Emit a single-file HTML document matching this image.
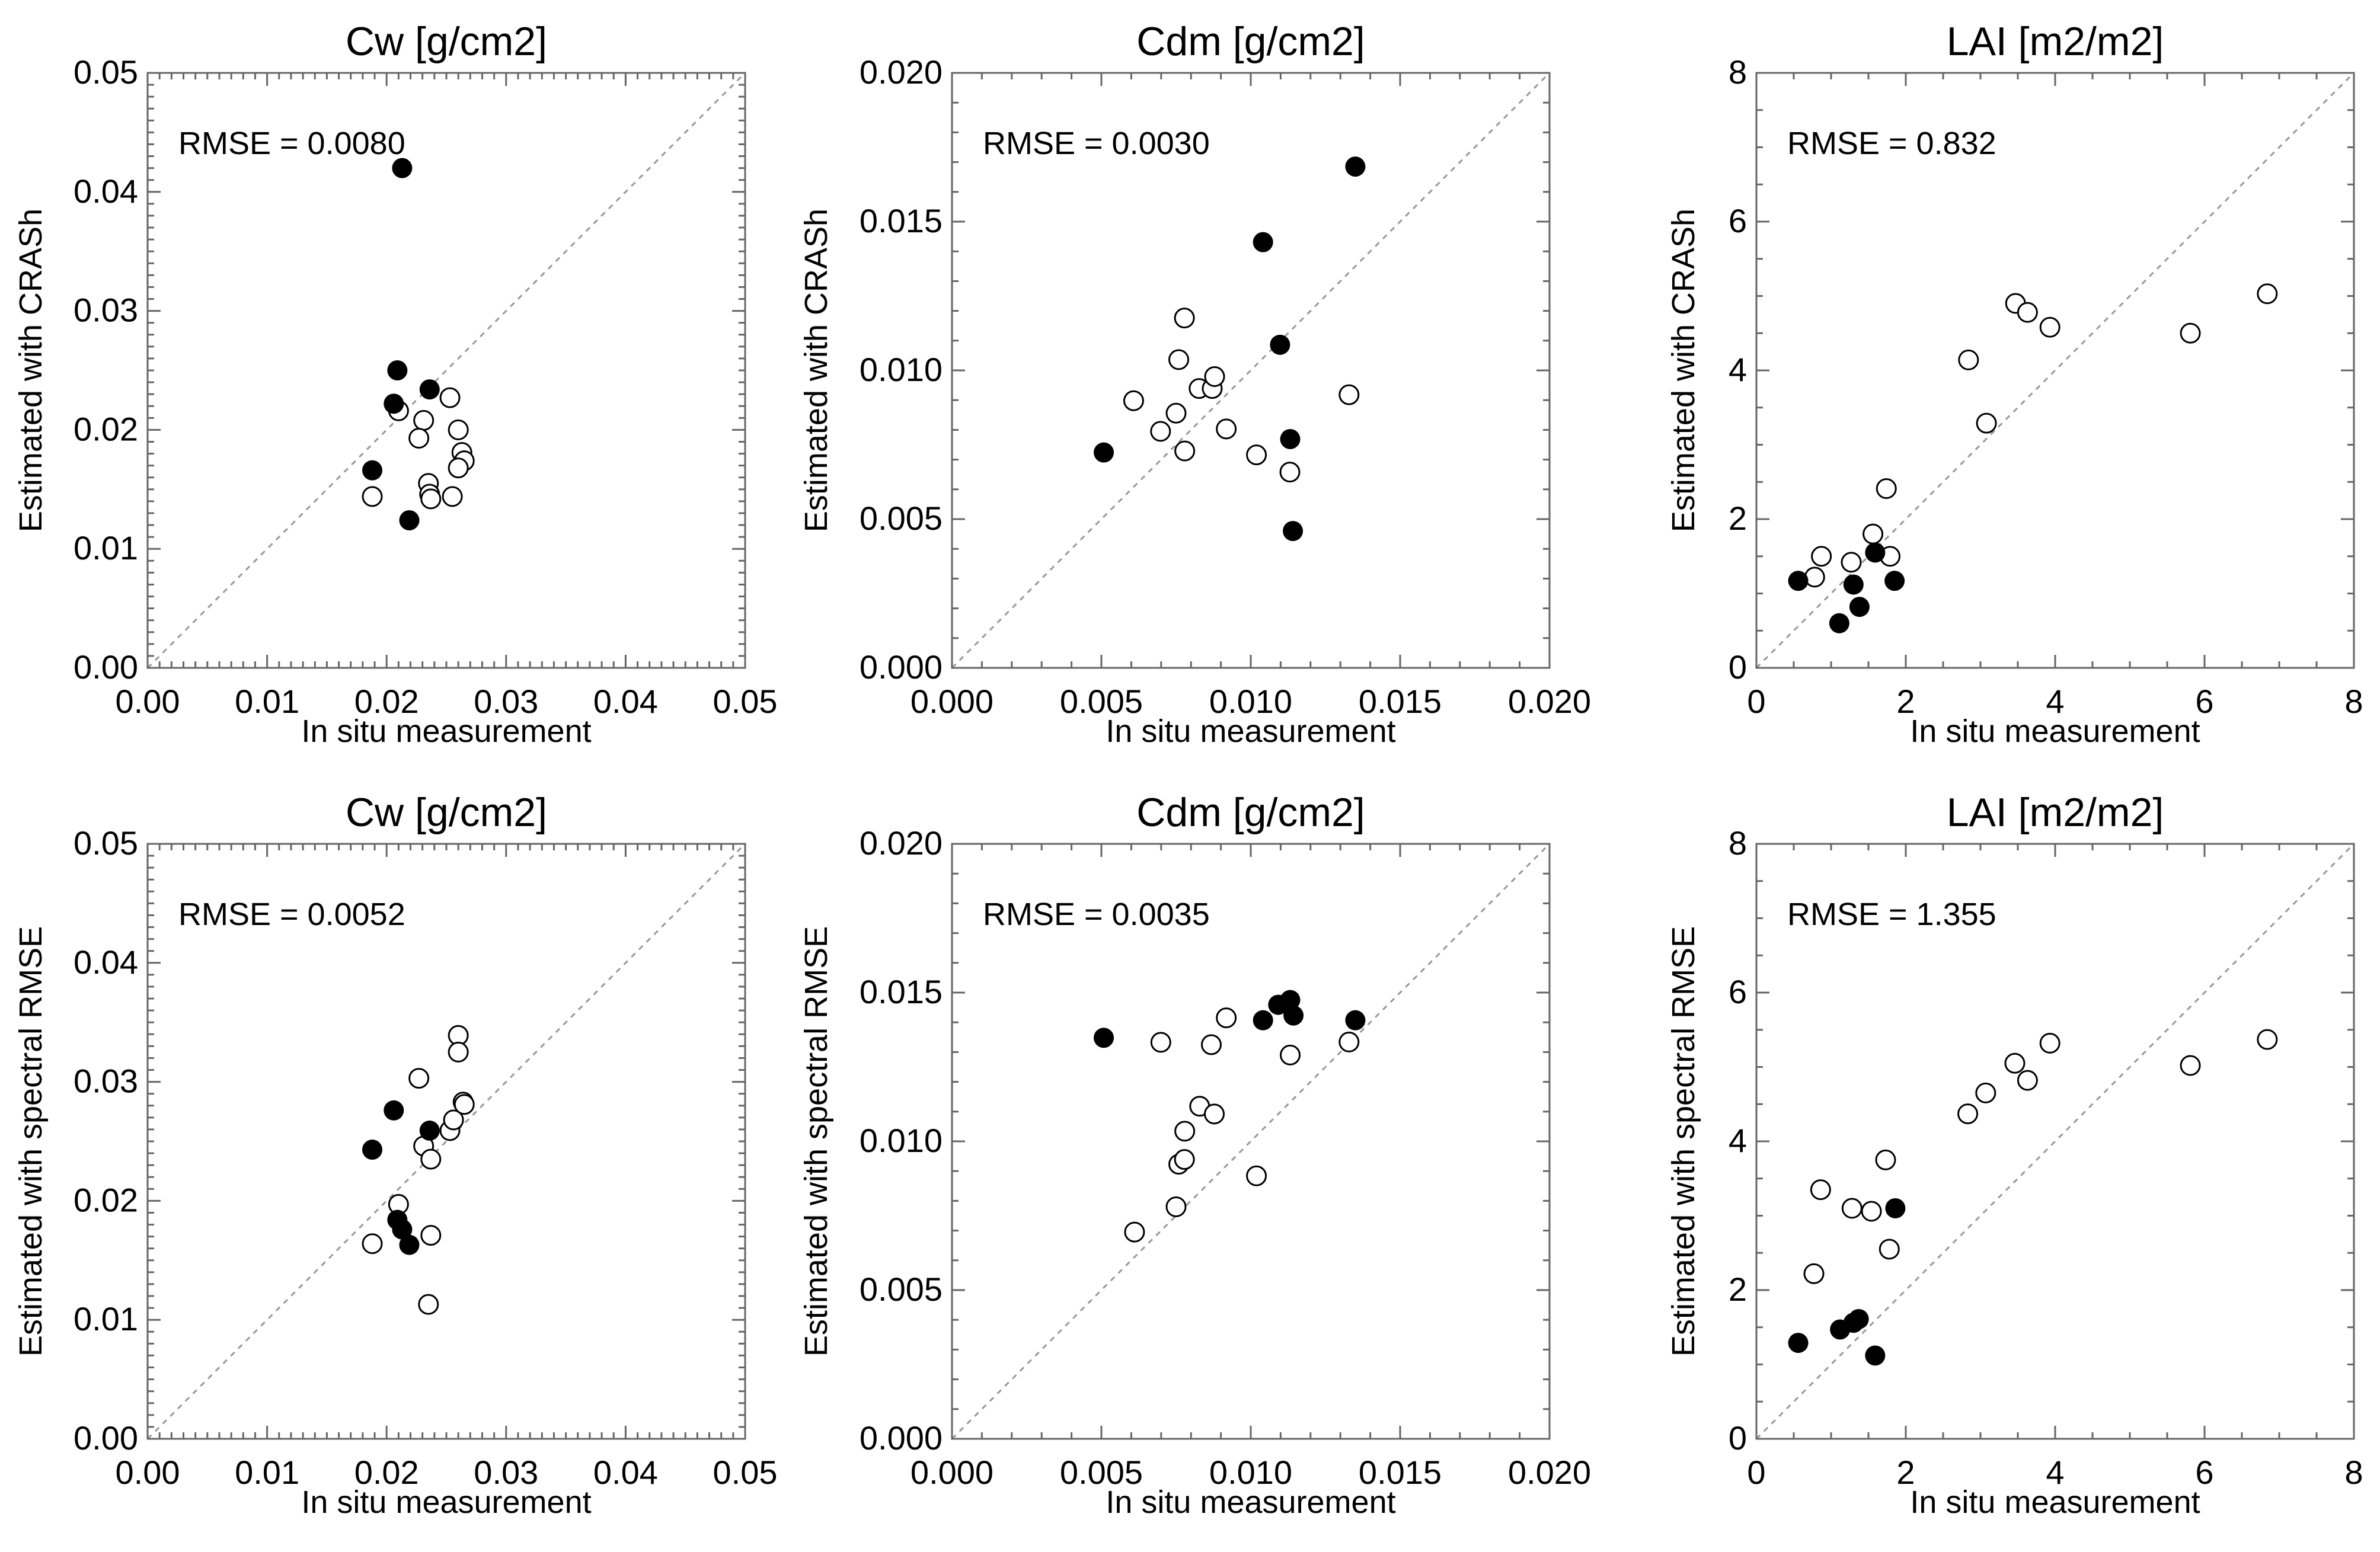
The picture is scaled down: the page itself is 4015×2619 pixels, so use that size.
<!DOCTYPE html>
<html><head><meta charset="utf-8"><style>
html,body{margin:0;padding:0;background:#fff}
svg{display:block}
text{font-family:"Liberation Sans",Arial,sans-serif;fill:#000}
</style></head><body>
<svg id="fig" width="4015" height="2619" viewBox="0 0 4015 2619" xmlns="http://www.w3.org/2000/svg"></svg>
<script>
// ---- data (in situ x values shared per variable) ----
const cwFilledX = [0.0213,0.0209,0.0206,0.0236,0.0188,0.0219];
const cwOpenX = [0.0210,0.0253,0.0231,0.0227,0.0260,0.0263,0.0265,0.0260,0.0235,0.0236,0.0237,0.0255,0.0188];
const cwCrashFilledY = [0.0420,0.0250,0.0222,0.0234,0.0166,0.0124];
const cwCrashOpenY = [0.0216,0.0227,0.0208,0.0193,0.0200,0.0181,0.0174,0.0168,0.0155,0.0146,0.0142,0.0144,0.0144];
const cwSpecFilledX = [0.0188,0.0206,0.0236,0.0209,0.0213,0.0219];
const cwSpecFilledY = [0.0243,0.0276,0.0259,0.0184,0.0176,0.0163];
const cwSpecOpenX = [0.0188,0.0210,0.0227,0.0231,0.0237,0.0237,0.0235,0.0253,0.0256,0.0260,0.0260,0.0264,0.0265];
const cwSpecOpenY = [0.0164,0.0197,0.0303,0.0246,0.0235,0.0171,0.0113,0.0259,0.0268,0.0339,0.0325,0.0283,0.0281];

const cdmFilledX = [0.00508,0.01041,0.01350,0.01098,0.01132,0.01141];
const cdmCrashFilledY = [0.00724,0.01431,0.01685,0.01086,0.00769,0.00460];
const cdmOpenX = [0.00608,0.00778,0.00759,0.00750,0.00698,0.00779,0.00827,0.00871,0.00879,0.00918,0.01019,0.01131,0.01329];
const cdmCrashOpenY = [0.00898,0.01176,0.01036,0.00856,0.00795,0.00729,0.00939,0.00939,0.00979,0.00803,0.00716,0.00658,0.00918];
const cdmSpecFilledX = [0.00508,0.01041,0.01092,0.01132,0.01143,0.01350];
const cdmSpecFilledY = [0.01348,0.01407,0.01459,0.01475,0.01423,0.01407];
const cdmSpecOpenX = [0.00611,0.00699,0.00750,0.00759,0.00778,0.00779,0.00829,0.00878,0.00868,0.00918,0.01019,0.01132,0.01329];
const cdmSpecOpenY = [0.00695,0.01333,0.00780,0.00923,0.00939,0.01034,0.01118,0.01092,0.01325,0.01415,0.00884,0.01290,0.01334];

const laiFilledX = [0.56,1.11,1.30,1.38,1.59,1.85];
const laiCrashFilledY = [1.17,0.60,1.12,0.82,1.55,1.17];
const laiOpenX = [0.78,0.87,1.27,1.56,1.79,1.74,2.84,3.08,3.47,3.63,3.93,5.81,6.84];
const laiCrashOpenY = [1.22,1.50,1.42,1.80,1.50,2.41,4.14,3.29,4.90,4.78,4.58,4.50,5.03];
const laiSpecFilledX = [0.56,1.12,1.30,1.37,1.59,1.86];
const laiSpecFilledY = [1.29,1.47,1.56,1.61,1.12,3.10];
const laiSpecOpenX = [0.77,0.86,1.28,1.54,1.73,1.78,2.83,3.07,3.46,3.63,3.93,5.81,6.84];
const laiSpecOpenY = [2.22,3.35,3.10,3.06,3.75,2.55,4.37,4.65,5.05,4.82,5.32,5.02,5.37];

const cwTicks = ["0.00","0.01","0.02","0.03","0.04","0.05"];
const cdmTicks = ["0.000","0.005","0.010","0.015","0.020"];
const laiTicks = ["0","2","4","6","8"];
const rmseLabels = ["RMSE = 0.0080","RMSE = 0.0030","RMSE = 0.832","RMSE = 0.0052","RMSE = 0.0035","RMSE = 1.355"];

const NS="http://www.w3.org/2000/svg";
const svg=document.getElementById('fig');
function mk(tag,attrs,parent){const e=document.createElementNS(NS,tag);for(const k in attrs)e.setAttribute(k,attrs[k]);(parent||svg).appendChild(e);return e;}

const panels=[
 {col:0,row:0,title:"Cw [g/cm2]",max:0.05,ticks:cwTicks,minor:0.001,ylab:"Estimated with CRASh",fx:cwFilledX,fy:cwCrashFilledY,ox:cwOpenX,oy:cwCrashOpenY,yoff:197,name:"cw-crash"},
 {col:1,row:0,title:"Cdm [g/cm2]",max:0.02,ticks:cdmTicks,minor:0.001,ylab:"Estimated with CRASh",fx:cdmFilledX,fy:cdmCrashFilledY,ox:cdmOpenX,oy:cdmCrashOpenY,yoff:229,name:"cdm-crash"},
 {col:2,row:0,title:"LAI [m2/m2]",max:8,ticks:laiTicks,minor:0.5,ylab:"Estimated with CRASh",fx:laiFilledX,fy:laiCrashFilledY,ox:laiOpenX,oy:laiCrashOpenY,yoff:123,name:"lai-crash"},
 {col:0,row:1,title:"Cw [g/cm2]",max:0.05,ticks:cwTicks,minor:0.001,ylab:"Estimated with spectral RMSE",fx:cwSpecFilledX,fy:cwSpecFilledY,ox:cwSpecOpenX,oy:cwSpecOpenY,yoff:197,name:"cw-spectral"},
 {col:1,row:1,title:"Cdm [g/cm2]",max:0.02,ticks:cdmTicks,minor:0.001,ylab:"Estimated with spectral RMSE",fx:cdmSpecFilledX,fy:cdmSpecFilledY,ox:cdmSpecOpenX,oy:cdmSpecOpenY,yoff:229,name:"cdm-spectral"},
 {col:2,row:1,title:"LAI [m2/m2]",max:8,ticks:laiTicks,minor:0.5,ylab:"Estimated with spectral RMSE",fx:laiSpecFilledX,fy:laiSpecFilledY,ox:laiSpecOpenX,oy:laiSpecOpenY,yoff:123,name:"lai-spectral"}
];
const lefts=[249,1606,2963], tops=[123,1424], W=1008, H=1004;

panels.forEach((p,i)=>{
 const L=lefts[p.col], T=tops[p.row];
 const g=mk('g',{});
 
 
 const sx=v=>L+v/p.max*W, sy=v=>T+H-v/p.max*H;
 const d=mk('line',{x1:sx(0),y1:sy(0),x2:sx(p.max),y2:sy(p.max),stroke:'#999','stroke-width':3,'stroke-dasharray':'9 9'},g);
 
 
 const n=Math.round(p.max/p.minor);
 const majEvery=Math.round(n/(p.ticks.length-1));
 for(let k=0;k<=n;k++){
  const v=k*p.minor, len=(k%majEvery===0)?22:11;
  const x=sx(v), y=sy(v);
  mk('line',{x1:x,y1:T+H,x2:x,y2:T+H-len,stroke:'#666','stroke-width':3},g);
  mk('line',{x1:x,y1:T,x2:x,y2:T+len,stroke:'#666','stroke-width':3},g);
  mk('line',{x1:L,y1:y,x2:L+len,y2:y,stroke:'#666','stroke-width':3},g);
  mk('line',{x1:L+W,y1:y,x2:L+W-len,y2:y,stroke:'#666','stroke-width':3},g);
 }
 const fr=mk('rect',{x:L,y:T,width:W,height:H,fill:'none',stroke:'#666','stroke-width':3},g);
 
 
 p.ticks.forEach((t,k)=>{
  const v=k*p.max/(p.ticks.length-1);
  const xl=mk('text',{x:sx(v),y:T+H+76,'font-size':56,'text-anchor':'middle'},g);
  xl.textContent=t;
  
  
  const yl=mk('text',{x:L-16,y:sy(v)+18,'font-size':56,'text-anchor':'end'},g);
  yl.textContent=t;
  
  
 });
 const ti=mk('text',{x:L+W/2,y:T-30,'font-size':68,'text-anchor':'middle'},g);
 ti.textContent=p.title;
 
 
 const xt=mk('text',{x:L+W/2,y:T+H+125,'font-size':54,'text-anchor':'middle'},g);
 xt.textContent="In situ measurement";
 
 
 const yc=T+H/2, yx=L-p.yoff+18;
 const yt=mk('text',{x:yx,y:yc,'font-size':54,'text-anchor':'middle',transform:`rotate(-90 ${yx} ${yc})`},g);
 yt.textContent=p.ylab;
 
 
 const rm=mk('text',{x:L+52,y:T+137,'font-size':54},g);
 rm.textContent=rmseLabels[i];
 
 
 p.ox.forEach((x,k)=>{
  const c=mk('circle',{cx:sx(x),cy:sy(p.oy[k]),r:16,fill:'#fff',stroke:'#000','stroke-width':3},g);
  
  
 });
 p.fx.forEach((x,k)=>{
  const c=mk('circle',{cx:sx(x),cy:sy(p.fy[k]),r:17,fill:'#000'},g);
  
  
 });
});
</script>
</body></html>
